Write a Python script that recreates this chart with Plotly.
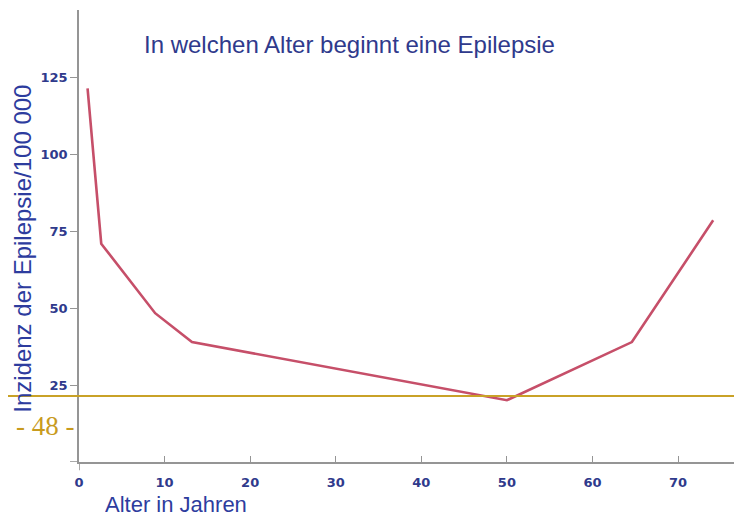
import plotly.graph_objects as go

# Data
age = [1.0, 2.6, 8.9, 13.2, 50.0, 64.6, 74.1]
incidence = [121.5, 71.0, 48.4, 39.0, 20.1, 39.0, 78.6]

x_ticks = [0, 10, 20, 30, 40, 50, 60, 70]
y_ticks = [25, 50, 75, 100, 125]

title_text = "In welchen Alter beginnt eine Epilepsie"
x_title = "Alter in Jahren"
y_title = "Inzidenz der Epilepsie/100 000"
page_label = "- 48 -"
slide_rule_y = 21.5  # gold slide divider, in data units

navy = "#2f3a8c"
axis_grey = "#959595"
tick_font = dict(family="DejaVu Sans", size=13, color=navy, weight="bold")

fig = go.Figure()
fig.add_trace(go.Scatter(
    x=age, y=incidence, mode="lines",
    line=dict(color="#c64f69", width=2.6),
    hoverinfo="skip", showlegend=False,
))

fig.update_layout(
    width=734, height=510,
    margin=dict(l=71, r=4, t=2, b=56),
    paper_bgcolor="white", plot_bgcolor="white",
    showlegend=False,
    xaxis=dict(
        range=[0, 77], tickvals=x_ticks, ticktext=[str(v) for v in x_ticks],
        showgrid=False, zeroline=False, showline=True, linecolor=axis_grey, linewidth=1.6,
        ticks="inside", ticklen=6, tickcolor=axis_grey, tickwidth=1.2,
        tickfont=tick_font, ticklabelstandoff=8,
    ),
    yaxis=dict(
        range=[0, 147], tickvals=y_ticks, ticktext=[str(v) for v in y_ticks],
        showgrid=False, zeroline=False, showline=True, linecolor=axis_grey, linewidth=1.6,
        ticks="outside", ticklen=7, tickcolor=axis_grey, tickwidth=1.2,
        tickfont=tick_font,
    ),
    annotations=[
        dict(text=title_text, x=0.411, y=0.923, xref="paper", yref="paper",
             xanchor="center", yanchor="middle", showarrow=False,
             font=dict(family="Liberation Sans", size=24, color=navy)),
        dict(text=x_title, x=0.036, y=-0.0935, xref="paper", yref="paper",
             xanchor="left", yanchor="middle", showarrow=False, height=22,
             font=dict(family="Liberation Sans", size=22, color="#2d3c9e")),
        dict(text=y_title, x=-0.087, y=0.471, xref="paper", yref="paper",
             xanchor="center", yanchor="middle", textangle=-90, showarrow=False,
             font=dict(family="Liberation Sans", size=24, color="#2d3c9e")),
        dict(text=page_label, x=-0.0516, y=slide_rule_y, xref="paper", yref="y",
             xanchor="center", yanchor="middle", yshift=-30, showarrow=False,
             font=dict(family="Liberation Serif", size=27, color="#c89b1e")),
    ],
    shapes=[
        dict(type="line", xref="paper", yref="y", x0=-0.12, x1=0.995,
             y0=slide_rule_y, y1=slide_rule_y,
             line=dict(color="#c9a227", width=2)),
        dict(type="line", xref="paper", yref="y", x0=-0.0137, x1=0,
             y0=0, y1=0, line=dict(color=axis_grey, width=1.6)),
        dict(type="line", xref="x", yref="paper", x0=0, x1=0,
             y0=-0.018, y1=0, line=dict(color=axis_grey, width=1.6)),
    ],
)

fig.write_html("out.html")
